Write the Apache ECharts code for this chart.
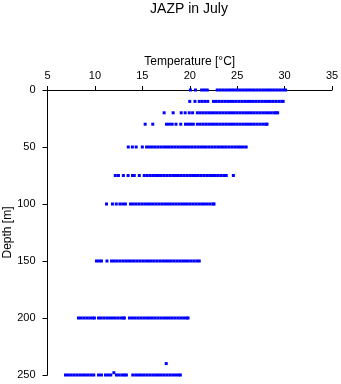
<!DOCTYPE html>
<html>
<head>
<meta charset="utf-8">
<script src="https://cdn.jsdelivr.net/npm/echarts@6/dist/echarts.min.js"></script>
<style>html,body{margin:0;padding:0;background:#fff;}#c{width:341px;height:384px;}</style>
</head>
<body>
<div id="c"></div>
<script>
const titleText = 'JAZP in July';
const xName = 'Temperature [°C]';
const yName = 'Depth [m]';
const xTicks = [5, 10, 15, 20, 25, 30, 35];
const yTicks = [0, 50, 100, 150, 200, 250];

const depths = [0, 10, 20, 30, 50, 75, 100, 150, 200, 250];
const t0 = [20.07, 20.6, 21.25, 21.55, 21.85, 22.9, 23.2, 23.5, 23.8, 24.1, 24.4, 24.7, 25.0, 25.3, 25.6, 25.9, 26.2, 26.5, 26.8, 27.1, 27.4, 27.7, 28.0, 28.3, 28.6, 28.9, 29.2, 29.5, 29.8, 30.1];
const t10 = [20.0, 20.55, 21.0, 21.3, 21.6, 21.9, 22.5, 22.8, 23.1, 23.4, 23.7, 24.0, 24.3, 24.6, 24.9, 25.2, 25.5, 25.8, 26.1, 26.4, 26.7, 27.0, 27.3, 27.6, 27.9, 28.2, 28.5, 28.8, 29.1, 29.4, 29.7, 29.85];
const t20 = [17.3, 18.25, 19.1, 19.52, 19.95, 20.3, 20.8, 21.1, 21.4, 21.7, 22.0, 22.3, 22.6, 22.9, 23.2, 23.5, 23.8, 24.1, 24.4, 24.7, 25.0, 25.3, 25.6, 25.9, 26.2, 26.5, 26.8, 27.1, 27.4, 27.7, 28.0, 28.3, 28.6, 28.9, 29.1, 29.27];
const t30 = [15.3, 16.1, 17.55, 17.85, 18.15, 18.55, 19.05, 19.55, 19.85, 20.1, 20.38, 20.8, 21.1, 21.4, 21.7, 22.0, 22.3, 22.6, 22.9, 23.2, 23.5, 23.8, 24.1, 24.4, 24.7, 25.0, 25.3, 25.6, 25.9, 26.2, 26.5, 26.8, 27.1, 27.4, 27.7, 28.0, 28.15];
const t50 = [13.52, 13.95, 14.35, 15.0, 15.45, 15.75, 16.05, 16.35, 16.65, 16.95, 17.25, 17.55, 17.85, 18.15, 18.45, 18.75, 19.05, 19.35, 19.65, 19.95, 20.25, 20.55, 20.85, 21.15, 21.45, 21.75, 22.05, 22.35, 22.65, 22.95, 23.25, 23.55, 23.85, 24.15, 24.45, 24.75, 25.05, 25.35, 25.65, 25.95];
const t75 = [12.15, 12.48, 13.0, 13.5, 13.96, 14.15, 14.68, 15.2, 15.5, 15.8, 16.1, 16.4, 16.7, 17.0, 17.3, 17.6, 17.9, 18.2, 18.5, 18.8, 19.1, 19.4, 19.7, 20.0, 20.3, 20.6, 20.9, 21.2, 21.5, 21.8, 22.1, 22.4, 22.7, 23.0, 23.3, 23.6, 23.85, 24.6];
const t100 = [11.22, 11.85, 12.25, 12.63, 12.93, 13.22, 13.75, 14.05, 14.35, 14.65, 14.95, 15.25, 15.55, 15.85, 16.15, 16.45, 16.75, 17.05, 17.35, 17.65, 17.95, 18.25, 18.55, 18.85, 19.15, 19.45, 19.75, 20.05, 20.35, 20.65, 20.95, 21.25, 21.55, 21.85, 22.15, 22.45, 22.56];
const t150 = [10.16, 10.45, 10.69, 11.27, 11.75, 12.05, 12.35, 12.65, 12.95, 13.25, 13.55, 13.85, 14.15, 14.45, 14.75, 15.05, 15.35, 15.65, 15.95, 16.25, 16.55, 16.85, 17.15, 17.45, 17.75, 18.05, 18.35, 18.65, 18.95, 19.25, 19.55, 19.85, 20.15, 20.45, 20.75, 21.0];
const t200 = [8.27, 8.55, 8.85, 9.15, 9.45, 9.75, 9.95, 10.38, 10.65, 10.95, 11.25, 11.55, 11.85, 12.15, 12.45, 12.75, 13.0, 13.11, 13.64, 13.95, 14.25, 14.55, 14.85, 15.15, 15.45, 15.75, 16.05, 16.35, 16.65, 16.95, 17.25, 17.55, 17.85, 18.15, 18.45, 18.75, 19.05, 19.35, 19.65, 19.82];
const t250 = [6.9, 7.2, 7.5, 7.8, 8.1, 8.4, 8.7, 9.0, 9.3, 9.6, 9.88, 10.38, 10.69, 11.11, 11.4, 11.67, 12.27, 12.55, 12.85, 13.1, 13.32, 13.99, 14.3, 14.6, 14.9, 15.2, 15.5, 15.8, 16.1, 16.4, 16.7, 17.0, 17.3, 17.6, 17.9, 18.2, 18.5, 18.8, 19.01];
const extraTemps = [17.52, 12.0];
const extraDepths = [240, 248];

const rows = [t0, t10, t20, t30, t50, t75, t100, t150, t200, t250];
const points = [];
rows.forEach((arr, i) => arr.forEach(t => points.push([t, depths[i]])));
extraTemps.forEach((t, i) => points.push([t, extraDepths[i]]));

const font = 'Liberation Sans';
const chart = echarts.init(document.getElementById('c'), null, {renderer: 'canvas'});
chart.setOption({
  animation: false,
  backgroundColor: '#ffffff',
  title: {
    text: titleText, left: 189, top: 2, textAlign: 'center', padding: 0,
    textStyle: {fontFamily: font, fontSize: 14, fontWeight: 'normal', color: '#000'}
  },
  grid: {left: 47.5, right: 9, top: 90, bottom: 9, containLabel: false, outerBoundsMode: 'none'},
  xAxis: {
    type: 'value', position: 'top', min: xTicks[0], max: xTicks[xTicks.length - 1], interval: 5,
    name: xName, nameLocation: 'middle', nameGap: 22, nameMoveOverlap: false,
    nameTextStyle: {fontFamily: font, fontSize: 12, color: '#000'},
    axisLine: {show: true, onZero: false, lineStyle: {color: '#000', width: 1}},
    axisTick: {show: true, inside: false, length: 4, lineStyle: {color: '#000'}},
    axisLabel: {fontFamily: font, fontSize: 11, color: '#000', margin: 9},
    splitLine: {show: false}
  },
  yAxis: {
    type: 'value', inverse: true, min: yTicks[0], max: yTicks[yTicks.length - 1], interval: 50,
    name: yName, nameLocation: 'middle', nameGap: 34, nameRotate: 90, nameMoveOverlap: false,
    nameTextStyle: {fontFamily: font, fontSize: 12, color: '#000'},
    axisLine: {show: true, onZero: false, lineStyle: {color: '#000', width: 1}},
    axisTick: {show: true, inside: false, length: 5, lineStyle: {color: '#000'}},
    axisLabel: {fontFamily: font, fontSize: 11, color: '#000', margin: 12},
    splitLine: {show: false}
  },
  series: [{
    type: 'scatter', data: points, symbol: 'rect', symbolSize: [3, 3],
    clip: false, itemStyle: {color: '#0000ff', opacity: 1}
  }]
});
</script>
</body>
</html>
